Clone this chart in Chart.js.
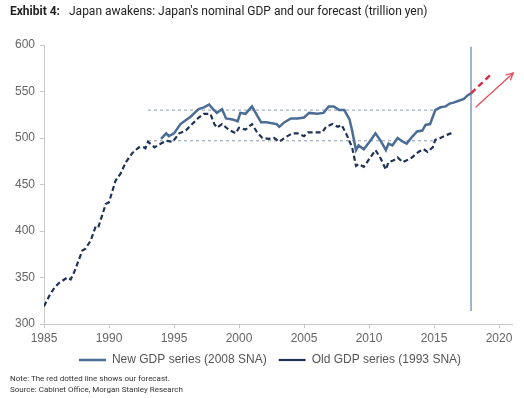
<!DOCTYPE html>
<html>
<head>
<meta charset="utf-8">
<script src="https://cdn.jsdelivr.net/npm/chart.js@4/dist/chart.umd.min.js"></script>
<style>
  body { margin: 0; background: #fff; }
  #wrap { position: relative; width: 524px; height: 398px; }
  #title { position: absolute; left: 10px; top: 4px; font: 12px Roboto, sans-serif; color: #222; white-space: nowrap; }
  #title b { margin-right: 6px; }
  #notes { position: absolute; left: 10px; top: 373px; font: 8px Roboto, sans-serif; color: #333; line-height: 11px; }
  canvas { position: absolute; left: 0; top: 0; }
</style>
</head>
<body>
<div id="wrap">
  <canvas id="chart" width="524" height="398"></canvas>
  <div id="title"><b>Exhibit 4:</b> Japan awakens: Japan's nominal GDP and our forecast (trillion yen)</div>
  <div id="notes">Note: The red dotted line shows our forecast.<br>Source: Cabinet Office, Morgan Stanley Research</div>
</div>
<script>
// 旧系列 (1993 SNA)
const oldYears = [1985.0, 1985.4, 1985.8, 1986.15, 1986.8, 1987.05, 1987.3, 1987.95, 1988.2, 1988.6,
  1989.0, 1989.2, 1989.75, 1990.0, 1990.5, 1990.9, 1991.3, 1991.8, 1992.3, 1992.7,
  1992.8, 1993.0, 1993.5, 1994.0, 1994.4, 1994.9, 1995.4, 1995.9, 1996.4, 1996.9,
  1997.3, 1997.8, 1998.1, 1998.3, 1998.7, 1999.2, 1999.75, 2000.0, 2000.5, 2001.0,
  2001.4, 2001.8, 2002.3, 2002.7, 2003.1, 2003.6, 2004.1, 2004.5, 2005.0, 2005.3,
  2005.8, 2006.4, 2006.7, 2007.2, 2007.6, 2007.9, 2008.3, 2008.7, 2009.0, 2009.2,
  2009.6, 2010.1, 2010.5, 2010.9, 2011.3, 2011.5, 2011.9, 2012.2, 2012.6, 2012.9,
  2013.3, 2013.8, 2014.2, 2014.5, 2014.9, 2015.1, 2015.5, 2015.9, 2016.3, 2016.5];
const oldGdp = [319, 330, 339, 344, 350, 348, 355, 379, 381, 390,
  406, 405, 429, 431, 454, 462, 474, 484, 490, 490,
  489, 496, 490, 494, 497, 496, 505, 508, 515, 522,
  526, 526, 515, 511, 515, 509, 505, 511, 509, 515,
  506, 500, 499, 500, 496, 501, 505, 505, 502, 506,
  506, 506, 512, 515, 512, 514, 503, 490, 470, 472,
  469, 479, 487, 478, 466, 474, 476, 479, 474, 476,
  479, 485, 488, 485, 490, 498, 500, 503, 505, 506];

// 新系列 (2008 SNA)
const newYears = [1994.0, 1994.4, 1994.6, 1995.0, 1995.5, 1995.9, 1996.3, 1996.5, 1996.9, 1997.3,
  1997.7, 1998.0, 1998.3, 1998.7, 1999.0, 1999.5, 1999.9, 2000.1, 2000.5, 2001.0,
  2001.4, 2001.7, 2002.1, 2002.9, 2003.1, 2003.5, 2004.0, 2004.5, 2005.0, 2005.4,
  2006.0, 2006.5, 2006.9, 2007.3, 2007.7, 2008.1, 2008.5, 2008.7, 2009.0, 2009.2,
  2009.6, 2010.1, 2010.5, 2010.9, 2011.3, 2011.5, 2011.8, 2012.2, 2012.6, 2012.9,
  2013.3, 2013.7, 2014.1, 2014.35, 2014.7, 2015.1, 2015.5, 2015.9, 2016.2, 2016.5,
  2016.9, 2017.3, 2017.6, 2017.85];
const newGdp = [499, 505, 502, 505, 515, 519, 523, 526, 531, 533,
  536, 531, 527, 531, 521, 520, 518, 527, 526, 534,
  524, 517, 517, 515, 512, 517, 521, 521, 522, 527,
  526, 527, 534, 534, 530, 530, 520, 508, 487, 492,
  488, 497, 505, 497, 487, 494, 492, 500, 496, 494,
  501, 507, 508, 514, 515, 530, 533, 534, 537, 538,
  540, 542, 546, 548];

// 预测 (红色虚线) 和箭头
const forecastYears = [2017.85, 2019.5];
const forecastGdp = [548, 570];
const arrowYears = [2018.2, 2021.1];
const arrowGdp = [533, 570];

// 参考线
const bandYears = [1993.0, 2015.1];
const bandHigh = 530;
const bandLow = 497;
const cutYear = 2017.85;
const cutRange = [314, 598];

const xTicks = [1985, 1990, 1995, 2000, 2005, 2010, 2015, 2020];

const pts = (xs, ys) => xs.map((x, i) => ({ x: x, y: Array.isArray(ys) ? ys[i] : ys }));

const arrowHead = {
  id: 'arrowHead',
  afterLayout(chart) {
    // 图例稍微右移
    if (chart.legend) { chart.legend.left += 9; chart.legend.right += 9; }
  },
  afterDatasetsDraw(chart) {
    const meta = chart.getDatasetMeta(5);
    if (!meta || meta.data.length < 2) return;
    const a = meta.data[0], b = meta.data[meta.data.length - 1];
    const ang = Math.atan2(b.y - a.y, b.x - a.x);
    const len = 8;
    const ctx = chart.ctx;
    ctx.save();
    ctx.strokeStyle = '#e0505a';
    ctx.lineWidth = 1.3;
    ctx.beginPath();
    ctx.moveTo(b.x - len * Math.cos(ang - 0.45), b.y - len * Math.sin(ang - 0.45));
    ctx.lineTo(b.x, b.y);
    ctx.lineTo(b.x - len * Math.cos(ang + 0.45), b.y - len * Math.sin(ang + 0.45));
    ctx.stroke();
    ctx.restore();
  }
};

new Chart(document.getElementById('chart'), {
  type: 'line',
  data: {
    datasets: [
      { label: 'New GDP series (2008 SNA)', data: pts(newYears, newGdp), borderColor: '#4a6c95', borderWidth: 2.5, order: 1 },
      { label: 'Old GDP series (1993 SNA)', data: pts(oldYears, oldGdp), borderColor: '#1f3357', borderWidth: 2.2, borderDash: [5, 3], order: 2 },
      { label: 'high', data: pts(bandYears, bandHigh), borderColor: '#8e9cae', borderWidth: 1, borderDash: [3, 3], order: 5 },
      { label: 'low', data: pts(bandYears, bandLow), borderColor: '#8e9cae', borderWidth: 1, borderDash: [3, 3], order: 5 },
      { label: 'forecast', data: pts(forecastYears, forecastGdp), borderColor: '#d62f45', borderWidth: 2.5, borderDash: [6, 4], order: 0 },
      { label: 'arrow', data: pts(arrowYears, arrowGdp), borderColor: '#e0505a', borderWidth: 1.3, clip: false, order: 0 },
      { label: 'cut', data: pts([cutYear, cutYear], cutRange), borderColor: '#7f9dc3', borderWidth: 1.5, order: 3 }
    ]
  },
  options: {
    responsive: false,
    animation: false,
    elements: { point: { radius: 0 }, line: { tension: 0, fill: false } },
    layout: { padding: { top: 45, left: 10, right: 12, bottom: 22 } },
    scales: {
      x: {
        type: 'linear', min: 1985, max: 2021,
        afterBuildTicks: s => { s.ticks = xTicks.map(v => ({ value: v })); },
        afterFit: s => { s.height = 18; },
        ticks: { color: '#666', font: { size: 12, family: 'Liberation Sans, Arial, sans-serif' }, padding: 3, maxRotation: 0,
          callback: v => String(v) },
        grid: { drawOnChartArea: false, tickLength: 4, color: '#c8c8c8' },
        border: { color: '#c8c8c8' }
      },
      y: {
        min: 300, max: 600,
        afterFit: s => { s.width = 34; },
        ticks: { stepSize: 50, color: '#666', font: { size: 12, family: 'Liberation Sans, Arial, sans-serif' }, padding: 5 },
        grid: { drawOnChartArea: false, tickLength: 4, color: '#c8c8c8' },
        border: { color: '#c8c8c8' }
      }
    },
    plugins: {
      title: { display: false },
      tooltip: { enabled: false },
      legend: {
        position: 'bottom',
        labels: {
          filter: item => item.datasetIndex < 2,
          usePointStyle: true, pointStyle: 'line', pointStyleWidth: 27,
          color: '#555', font: { size: 12, family: 'Liberation Sans, Arial, sans-serif' },
          padding: 12
        }
      }
    }
  },
  plugins: [arrowHead]
});
</script>
</body>
</html>
